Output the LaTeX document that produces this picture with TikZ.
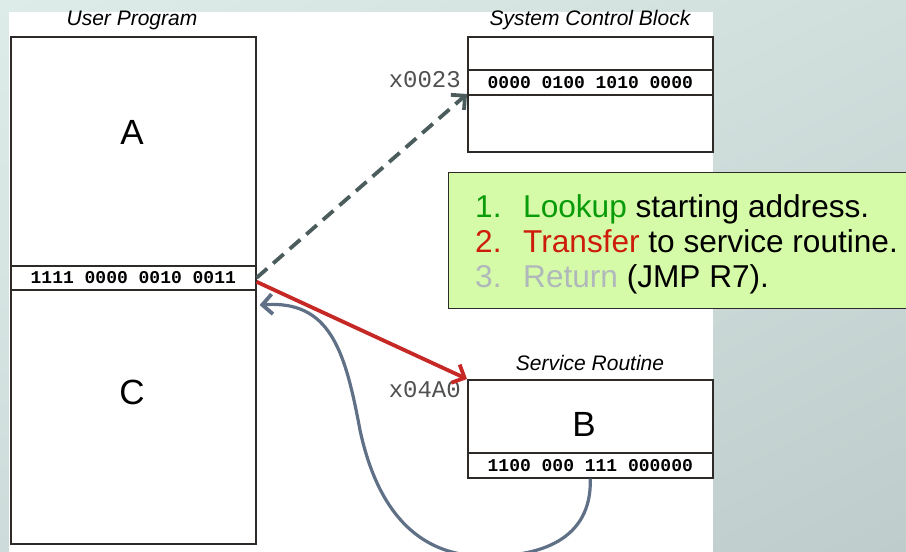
\documentclass[tikz,border=0pt]{standalone}
\usepackage{fontspec}
\setmainfont{Liberation Sans}
\newfontfamily\binfont{Liberation Mono}[BoldFont={Liberation Mono Bold}]
\newfontfamily\addrfont{Liberation Mono}
\usetikzlibrary{arrows.meta,shadings}
\definecolor{bgA}{RGB}{222,236,233}
\definecolor{bgB}{RGB}{208,222,220}
\definecolor{bgC}{RGB}{205,220,218}
\definecolor{bgD}{RGB}{190,204,203}
\definecolor{boxline}{RGB}{45,42,40}
\definecolor{notefill}{RGB}{213,251,168}
\definecolor{stepgreen}{RGB}{10,155,10}
\definecolor{stepred}{RGB}{205,28,10}
\definecolor{stepgrey}{RGB}{176,184,188}
\definecolor{dasharrow}{RGB}{74,92,92}
\definecolor{redarrow}{RGB}{198,40,38}
\definecolor{retarrow}{RGB}{95,112,135}
\definecolor{addrgrey}{RGB}{80,80,80}
\tikzset{
  memcell/.style={draw=boxline, line width=1.6pt, fill=white, inner sep=0pt, anchor=north west},
  bintext/.style={font=\binfont\bfseries\fontsize{18}{18}\selectfont},
  bigletter/.style={font=\fontsize{35}{35}\selectfont, inner sep=0pt},
  title/.style={font=\itshape\fontsize{21}{21}\selectfont, inner sep=0pt},
  addr/.style={font=\addrfont\fontsize{24}{24}\selectfont, text=addrgrey, inner sep=0pt, anchor=east},
  flow/.style={line width=3.8pt, -{Straight Barb[length=10pt, width=20pt, line width=3.8pt]}},
}
\begin{document}
\begin{tikzpicture}[x=1pt, y=-1pt]
\useasboundingbox (0,0) rectangle (906,552);
\clip (0,0) rectangle (906,552);
\shade[upper left=bgA, upper right=bgB, lower left=bgC, lower right=bgD] (0,0) rectangle (906,552);
\fill[white] (9,12) rectangle (713,552);

% User program
\node[title] (uptitle) at (132,20) {User Program};
\node[memcell, minimum width=245pt, minimum height=229pt] (upA) at (10,36) {};
\node[memcell, minimum width=245pt, minimum height=24pt, bintext] (uprow) at (10,265) {1111 0000 0010 0011};
\node[memcell, minimum width=245pt, minimum height=254pt] (upC) at (10,289) {};
\node[bigletter] (lblA) at (132,132) {A};
\node[bigletter] (lblC) at (132,392) {C};

% System control block
\node[title] (scbtitle) at (590,20) {System Control Block};
\node[memcell, minimum width=245pt, minimum height=33pt] (scb1) at (467,36) {};
\node[memcell, minimum width=245pt, minimum height=25pt, bintext] (scb2) at (467,69) {0000 0100 1010 0000};
\node[memcell, minimum width=245pt, minimum height=57pt] (scb3) at (467,94) {};
\node[addr] (a1) at (461,80) {x0023};

% Service routine
\node[title] (srtitle) at (590,363) {Service Routine};
\node[memcell, minimum width=245pt, minimum height=73pt] (srB) at (467,379) {};
\node[memcell, minimum width=245pt, minimum height=25pt, bintext] (srrow) at (467,452) {1100 000 111 000000};
\node[bigletter] (lblB) at (584,424) {B};
\node[addr] (a2) at (461,390) {x04A0};

% note
\node[draw=boxline, line width=1pt, fill=notefill, anchor=north west,
      minimum width=475pt, minimum height=136pt] (note) at (448,172) {};
\node[anchor=west, inner sep=0pt, align=left, font=\fontsize{31.6}{35}\selectfont] (notetext) at (475,244)
  {\makebox[48pt][l]{\color{stepgreen}1.}\textcolor{stepgreen}{Lookup} starting address.\\
   \makebox[48pt][l]{\color{stepred}2.}\textcolor{stepred}{Transfer} to service routine.\\
   \makebox[48pt][l]{\color{stepgrey}3.}\textcolor{stepgrey}{Return} (JMP R7).};

% connectors
\draw[flow, dasharrow, dash pattern=on 14pt off 8pt] (uprow.east) -- (scb3.north west);
\draw[flow, redarrow] ([yshift=-4pt]uprow.east) -- (srB.north west);
\coordinate (ret) at ([xshift=3pt,yshift=-16pt]upC.north east);
\draw[flow, retarrow, line width=3.2pt] (srrow.south) .. controls (592,540) and (540,558) .. (480,556)
   .. controls (410,554) and (375,500) .. (360,430)
   .. controls (345,350) and (330,300) .. (ret);
\end{tikzpicture}
\end{document}
